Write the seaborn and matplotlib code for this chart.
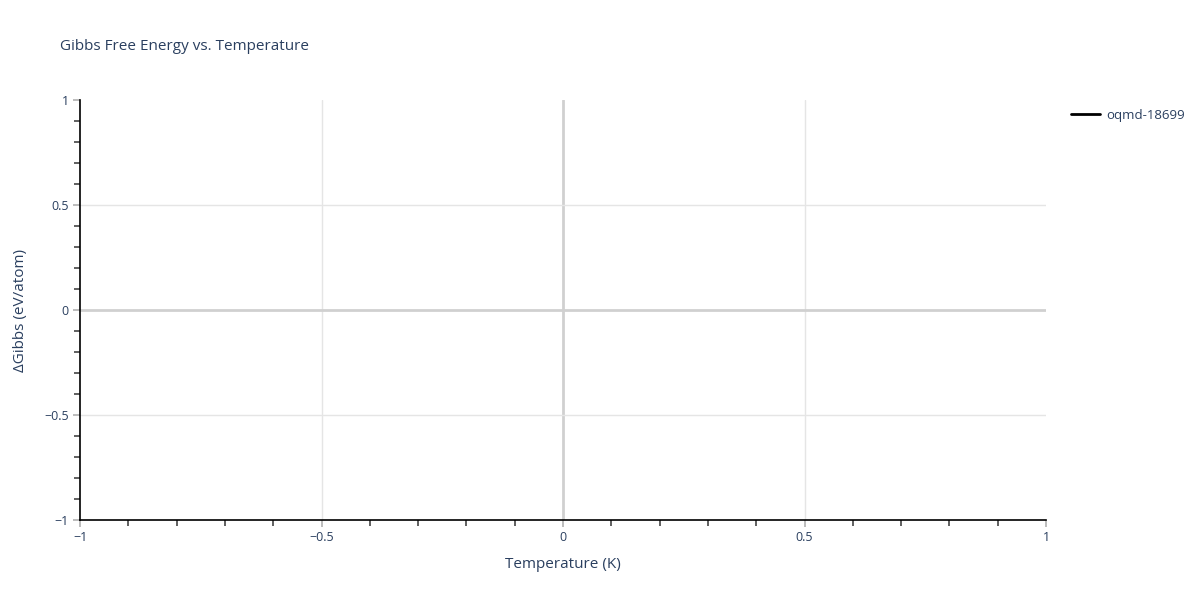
import numpy as np
import pandas as pd
import seaborn as sns
import matplotlib.pyplot as plt
from matplotlib.ticker import MultipleLocator

# the single series has no points in range, only its legend entry is shown
series_name = "oqmd-18699"
temperature = []
delta_gibbs = []

title = "Gibbs Free Energy vs. Temperature"
x_label = "Temperature (K)"
y_label = "ΔGibbs (eV/atom)"
x_ticks = [-1, -0.5, 0, 0.5, 1]
y_ticks = [-1, -0.5, 0, 0.5, 1]

text_color = "#2a3f5f"

sns.set_theme(style="white")
plt.rcParams["font.family"] = ["Open Sans", "DejaVu Sans"]

fig = plt.figure(figsize=(12, 6), dpi=100)
ax = fig.add_axes([80 / 1200, 80 / 600, 966 / 1200, 420 / 600])

df = pd.DataFrame({"T": pd.Series(temperature, dtype=float),
                   "G": pd.Series(delta_gibbs, dtype=float)})
sns.lineplot(data=df, x="T", y="G", ax=ax, color="black")
line, = ax.plot(df["T"], df["G"], color="black", linewidth=2, label=series_name)

ax.set_xlim(-1, 1)
ax.set_ylim(-1, 1)
ax.set_xticks(x_ticks)
ax.set_yticks(y_ticks)
ax.xaxis.set_minor_locator(MultipleLocator(0.1))
ax.yaxis.set_minor_locator(MultipleLocator(0.1))
fmt = lambda v, p: f"{v:g}".replace("-", "\u2212")
ax.xaxis.set_major_formatter(fmt)
ax.yaxis.set_major_formatter(fmt)

# interior grid lines only (no line at the outer limits)
ax.grid(False)
for v in x_ticks[1:-1]:
    if v == 0:
        ax.axvline(v, color="#d0d0d0", linewidth=2, zorder=1)
    else:
        ax.axvline(v, color="#e5e5e5", linewidth=1, zorder=1)
for v in y_ticks[1:-1]:
    if v == 0:
        ax.axhline(v, color="#d0d0d0", linewidth=2, zorder=1)
    else:
        ax.axhline(v, color="#e5e5e5", linewidth=1, zorder=1)

for side in ["top", "right"]:
    ax.spines[side].set_visible(False)
for side in ["left", "bottom"]:
    ax.spines[side].set_color("black")
    ax.spines[side].set_linewidth(1.2)
    ax.spines[side].set_zorder(5)

ax.tick_params(axis="both", which="both", direction="out", bottom=True, left=True,
               labelcolor=text_color, labelsize=9)
ax.tick_params(axis="both", which="major", length=5, width=1.2, pad=3, color="#b0b0b0")
ax.tick_params(axis="both", which="minor", length=4, width=1.2, color="#444444")

ax.set_xlabel(x_label, fontsize=11, color=text_color, labelpad=9)
ax.set_ylabel(y_label, fontsize=11, color=text_color, labelpad=12)

fig.text(60 / 1200, 1 - 46 / 600, title, fontsize=11, color=text_color,
         ha="left", va="center")

leg = fig.legend(handles=[line], loc="center left", bbox_to_anchor=(1067 / 1200, 1 - 115 / 600),
                 frameon=False, fontsize=9.5, handlelength=2.2, handletextpad=0.45,
                 borderaxespad=0, borderpad=0.3)
for t in leg.get_texts():
    t.set_color(text_color)

fig.savefig("out.png", dpi=100)
